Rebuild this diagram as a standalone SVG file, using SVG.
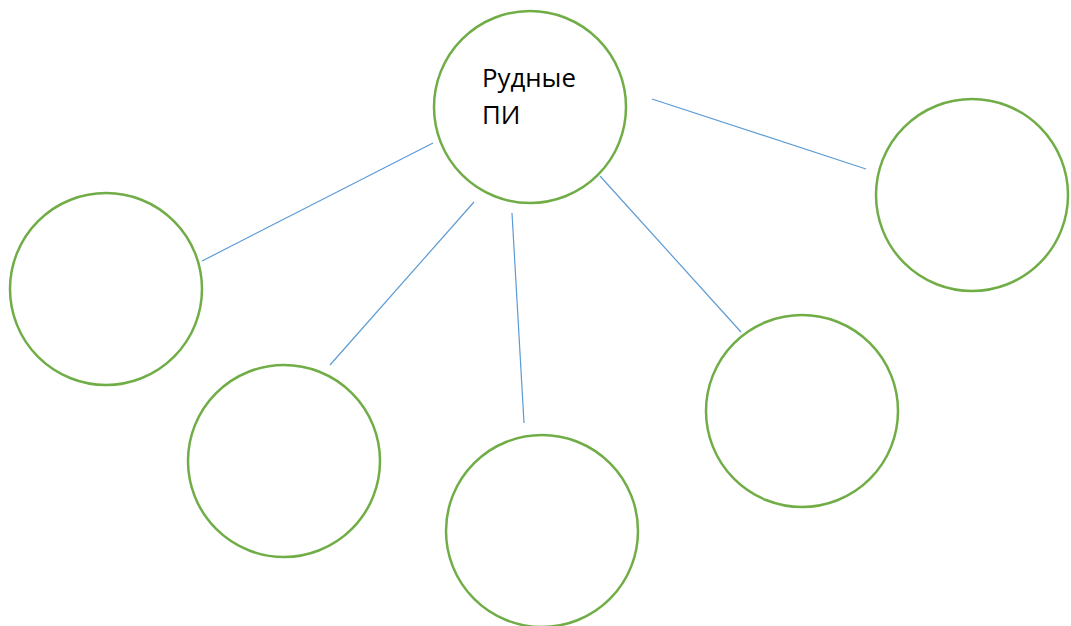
<svg xmlns="http://www.w3.org/2000/svg" width="1071" height="626" viewBox="0 0 1071 626">
<style>
.n{fill:#fff;stroke:#70AD47;stroke-width:2.5}
.c{stroke:#5B9BD5;stroke-width:1.2;fill:none}
.t{font-family:"Open Sans","Liberation Sans",sans-serif;font-size:25.8px;fill:#000}
</style>
<rect width="1071" height="626" fill="#fff"/>
<g id="connectors">
<line class="c" x1="433" y1="143" x2="202" y2="261"/>
<line class="c" x1="474" y1="202" x2="330" y2="365"/>
<line class="c" x1="512" y1="213" x2="524" y2="423"/>
<line class="c" x1="600" y1="176" x2="741" y2="332"/>
<line class="c" x1="652" y1="99" x2="866" y2="169"/>
</g>
<g id="center"><circle class="n" cx="530" cy="107" r="96"/>
<text class="t" x="482" y="87">Рудные</text>
<text class="t" x="482" y="124">ПИ</text></g>
<g id="left"><circle class="n" cx="106" cy="289" r="96"/></g>
<g id="bottomleft"><circle class="n" cx="284" cy="461" r="96"/></g>
<g id="bottom"><circle class="n" cx="542" cy="531" r="96"/></g>
<g id="bottomright"><circle class="n" cx="802" cy="411" r="96"/></g>
<g id="right"><circle class="n" cx="972" cy="195" r="96"/></g>
</svg>
